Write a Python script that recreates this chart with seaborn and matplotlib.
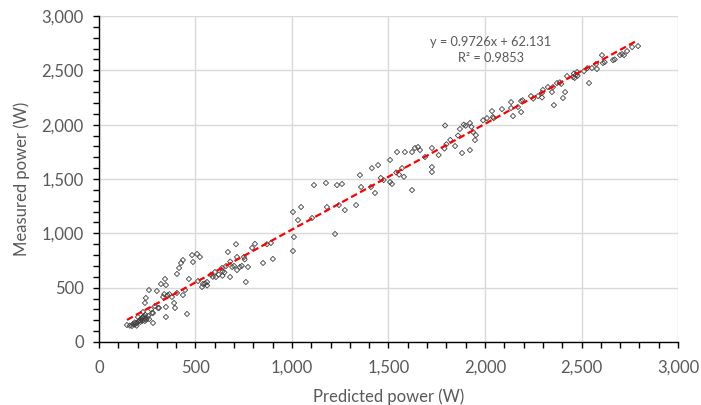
import numpy as np
import pandas as pd
import matplotlib
matplotlib.use("Agg")
import matplotlib.pyplot as plt
import seaborn as sns
from matplotlib.ticker import MultipleLocator, FuncFormatter

# predicted vs measured power (W)
predicted = [
    145, 160, 171, 176, 185, 190, 197, 202, 205, 210, 212, 215, 218, 223, 225, 228, 232, 235,
    238, 240, 245, 248, 228, 238, 243, 259, 275, 280, 280, 300, 306, 311, 321, 332, 338, 342,
    347, 347, 347, 355, 365, 378, 389, 394, 404, 404, 415, 425, 435, 435, 446, 456, 466, 482,
    487, 508, 523, 513, 534, 539, 560, 550, 270, 290, 260, 255, 185, 195,
    601, 606, 637, 640, 650, 658, 668, 679, 690, 700, 715, 715, 730, 751, 755, 761, 772, 793,
    808, 850, 870, 901, 640, 620, 710, 580, 590, 680, 560, 740, 891,
    1005, 1031, 1047, 1010, 1005, 1104, 1114, 1176, 1181, 1223, 1233, 1259, 1243, 1274, 1332,
    1358, 1409, 1430, 1508, 1518, 1622, 1352, 1414, 1446, 1508, 1544, 1585, 1622, 1637, 1653,
    1663, 1689, 1725, 1725, 1725, 1460, 1475, 1540, 1555, 1570, 1580,
    1760, 1790, 1793, 1800, 1820, 1845, 1860, 1870, 1881, 1890, 1900, 1922, 1930, 1938, 1953,
    1948, 1922, 1990, 2010,
    2036, 2041, 2045, 2088, 2135, 2135, 2145, 2171, 2187, 2187, 2195, 2238, 2275, 2295, 2295,
    2326, 2347, 2352, 2357, 2373, 2388, 2395, 2415, 2404, 2539, 2425, 2456, 2465, 2477, 2472,
    2513, 2554, 2575, 2580, 2606, 2611, 2620, 2663, 2672, 2699, 2710, 2720, 2736, 2762, 2793,
    2250, 2300, 2460, 2480, 2530,
]
measured = [
    156, 150, 147, 166, 160, 170, 175, 230, 190, 200, 202, 185, 210, 221, 195, 230, 240, 215,
    193, 250, 205, 220, 276, 359, 405, 478, 267, 267, 175, 469, 313, 313, 534, 414, 440, 580,
    524, 322, 230, 430, 440, 414, 359, 313, 626, 451, 681, 727, 754, 432, 478, 258, 580, 800,
    736, 810, 782, 561, 506, 534, 552, 540, 300, 330, 210, 240, 180, 150,
    644, 598, 681, 650, 640, 699, 828, 598, 690, 700, 782, 662, 690, 782, 760, 552, 690, 866,
    903, 727, 900, 764, 610, 620, 900, 620, 600, 740, 520, 700, 911,
    1196, 1122, 1242, 966, 837, 1141, 1444, 1463, 1242, 994, 1444, 1454, 1260, 1214, 1260,
    1426, 1426, 1371, 1472, 1454, 1398, 1536, 1600, 1628, 1675, 1748, 1748, 1748, 1785, 1794,
    1766, 1702, 1785, 1610, 1564, 1510, 1490, 1560, 1540, 1600, 1520,
    1720, 1780, 1992, 1820, 1860, 1803, 1900, 1960, 1739, 2000, 1990, 2015, 1980, 1932, 1904,
    1858, 1766, 2040, 2060,
    2125, 2070, 2060, 2143, 2208, 2153, 2079, 2162, 2116, 2217, 2225, 2263, 2263, 2291, 2250,
    2346, 2300, 2346, 2180, 2383, 2390, 2375, 2300, 2245, 2383, 2447, 2438, 2430, 2484, 2460,
    2493, 2521, 2558, 2512, 2640, 2567, 2575, 2594, 2600, 2640, 2650, 2640, 2677, 2714, 2723,
    2240, 2320, 2470, 2450, 2520,
]

slope = 0.9726
intercept = 62.131
r_squared = 0.9853

df = pd.DataFrame({"predicted": predicted, "measured": measured})

sns.set_style("white")
plt.rcParams["font.family"] = ["Lato", "DejaVu Sans"]

fig = plt.figure(figsize=(7.01, 4.05), dpi=100)
ax = fig.add_axes([0.1412, 0.1556, 0.8260, 0.8049])

grey_text = "#595959"
ax.grid(True, which="major", color="#d9d9d9", linewidth=1.0)
ax.set_axisbelow(True)

sns.scatterplot(data=df, x="predicted", y="measured", marker="D", s=7,
                facecolor="none", edgecolor="#404040", linewidth=0.6, ax=ax, zorder=3)

trend = pd.DataFrame({"x": [df.predicted.min(), df.predicted.max()]})
trend["y"] = slope * trend["x"] + intercept
sns.lineplot(data=trend, x="x", y="y", color="#ff0000", linewidth=1.6,
             linestyle=(0, (3, 1.6)), ax=ax, zorder=4)

ax.set_xlim(0, 3000)
ax.set_ylim(0, 3000)
ax.xaxis.set_major_locator(MultipleLocator(500))
ax.yaxis.set_major_locator(MultipleLocator(500))
ax.xaxis.set_minor_locator(MultipleLocator(100))
ax.yaxis.set_minor_locator(MultipleLocator(100))
fmt = FuncFormatter(lambda v, p: f"{int(v):,}")
ax.xaxis.set_major_formatter(fmt)
ax.yaxis.set_major_formatter(fmt)

ax.tick_params(which="both", direction="out", length=4, width=1, color="black",
               bottom=True, left=True)
ax.tick_params(which="major", labelsize=12, labelcolor=grey_text)
ax.tick_params(axis="x", which="major", pad=9)
ax.tick_params(axis="y", which="major", pad=7)

for side in ["top", "right"]:
    ax.spines[side].set_visible(False)
for side in ["left", "bottom"]:
    ax.spines[side].set_color("black")
    ax.spines[side].set_linewidth(1.0)

ax.set_xlabel("Predicted power (W)", fontsize=12, color=grey_text, labelpad=9)
ax.set_ylabel("Measured power (W)", fontsize=12, color=grey_text, labelpad=8)

ax.text(2030, 2760, f"y = {slope}x + {intercept}", fontsize=9.2, color=grey_text,
        ha="center", va="center")
ax.text(2030, 2613, f"R² = {r_squared}", fontsize=9.2, color=grey_text,
        ha="center", va="center")

fig.savefig("out.png", dpi=100)
